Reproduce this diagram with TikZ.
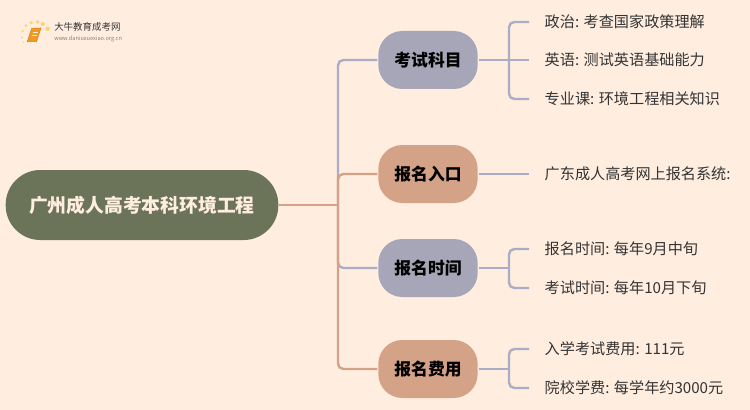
\documentclass[tikz,border=0pt]{standalone}
\usepackage{fontspec}
\setmainfont{Noto Sans CJK SC}
\definecolor{paper}{HTML}{FFEEE0}
\definecolor{rootgreen}{HTML}{6B7358}
\definecolor{slate}{HTML}{A7A6B8}
\definecolor{clay}{HTML}{D3A287}
\definecolor{slateline}{HTML}{A9ADC6}
\definecolor{inkgrey}{HTML}{333333}
\definecolor{bookorange}{HTML}{F09A25}
\definecolor{bookdark}{HTML}{D9801A}
\definecolor{dotyellow}{HTML}{FBD36B}
\tikzset{
  rootbox/.style={fill=rootgreen, text=paper, rounded corners=26pt, minimum width=204.5pt, minimum height=52.5pt, font=\fontsize{14.1}{16}\selectfont\bfseries},
  topicbox/.style={rounded corners=18pt, minimum width=74.5pt, minimum height=43.5pt, inner sep=0pt, outer sep=.75pt, text=black, font=\fontsize{12.6}{15}\selectfont\bfseries},
  leafbox/.style={anchor=west, inner xsep=11.6pt, inner ysep=0pt, text=inkgrey, font=\fontsize{11.35}{14}\selectfont},
  slatelink/.style={draw=slateline, line width=1.8pt},
  claylink/.style={draw=clay, line width=1.8pt},
}
\begin{document}
\begin{tikzpicture}[x=0.75pt, y=-0.75pt]
\fill[paper] (0,0) rectangle (750,410);
\useasboundingbox (0,0) rectangle (750,410);
% logo
\foreach \dx/\dy/\dr in {26/25.7/1.5, 31.3/22.7/1.8, 37.7/22/1.8, 42.7/24/2, 47.7/28.7/2.2, 22.7/31/1.2, 22/37.3/1, 23.7/42.3/.8}
  \fill[dotyellow] (\dx,\dy) circle [radius=\dr];
\fill[bookorange, draw=bookdark, line width=.4pt] (31.7,28.3) -- (41,28) -- (36.5,41.7) -- (27.3,41.7) -- cycle;
\draw[paper, line width=.5pt] (33,32) -- (38,32) (32,35) -- (37,35);
\node[inner sep=0pt, anchor=west, text=inkgrey, font=\fontsize{7.1}{8}\selectfont] (logotitle) at (54,27) {大牛教育成考网};
\node[inner sep=0pt, anchor=west, text=gray, font=\fontsize{4.2}{5}\selectfont] (logourl) at (54,38.5) {www.daniuxuexiao.org.cn};
% nodes
\node[rootbox] (root) at (142,205) {广州成人高考本科环境工程};
\node[topicbox, fill=slate] (subject) at (428,60) {考试科目};
\node[topicbox, fill=clay] (entry) at (428,174) {报名入口};
\node[topicbox, fill=slate] (period) at (428,268) {报名时间};
\node[topicbox, fill=clay] (cost) at (428,369) {报名费用};
\node[leafbox] (politics) at (529,22) {政治: 考查国家政策理解};
\node[leafbox] (english) at (529,60) {英语: 测试英语基础能力};
\node[leafbox] (major) at (529,99) {专业课: 环境工程相关知识};
\node[leafbox] (site) at (529,174) {广东成人高考网上报名系统:};
\node[leafbox] (signup) at (529,249) {报名时间: 每年9月中旬};
\node[leafbox] (exam) at (529,288) {考试时间: 每年10月下旬};
\node[leafbox] (examfee) at (529,349) {入学考试费用: 111元};
\node[leafbox] (tuition) at (529,388) {院校学费: 每学年约3000元};
% trunk
\coordinate (trunk) at (338,205);
\draw[slatelink, rounded corners=4pt] (trunk) |- (subject.west);
\draw[slatelink, rounded corners=4pt] (trunk) |- (period.west);
\draw[claylink] (root.east) -- (trunk);
\draw[claylink, rounded corners=4pt] (trunk) |- (entry.west);
\draw[claylink, rounded corners=4pt] (trunk) |- (cost.west);
% forks
\coordinate (subjectfork) at (509,60);
\coordinate (periodfork) at (509,268);
\coordinate (costfork) at (509,369);
\draw[slatelink] (subject.east) -- (english.west);
\draw[slatelink, rounded corners=4pt] (subjectfork) |- (politics.west);
\draw[slatelink, rounded corners=4pt] (subjectfork) |- (major.west);
\draw[slatelink] (entry.east) -- (site.west);
\draw[slatelink] (period.east) -- (periodfork);
\draw[slatelink, rounded corners=4pt] (periodfork) |- (signup.west);
\draw[slatelink, rounded corners=4pt] (periodfork) |- (exam.west);
\draw[slatelink] (cost.east) -- (costfork);
\draw[slatelink, rounded corners=4pt] (costfork) |- (examfee.west);
\draw[slatelink, rounded corners=4pt] (costfork) |- (tuition.west);
\end{tikzpicture}
\end{document}
